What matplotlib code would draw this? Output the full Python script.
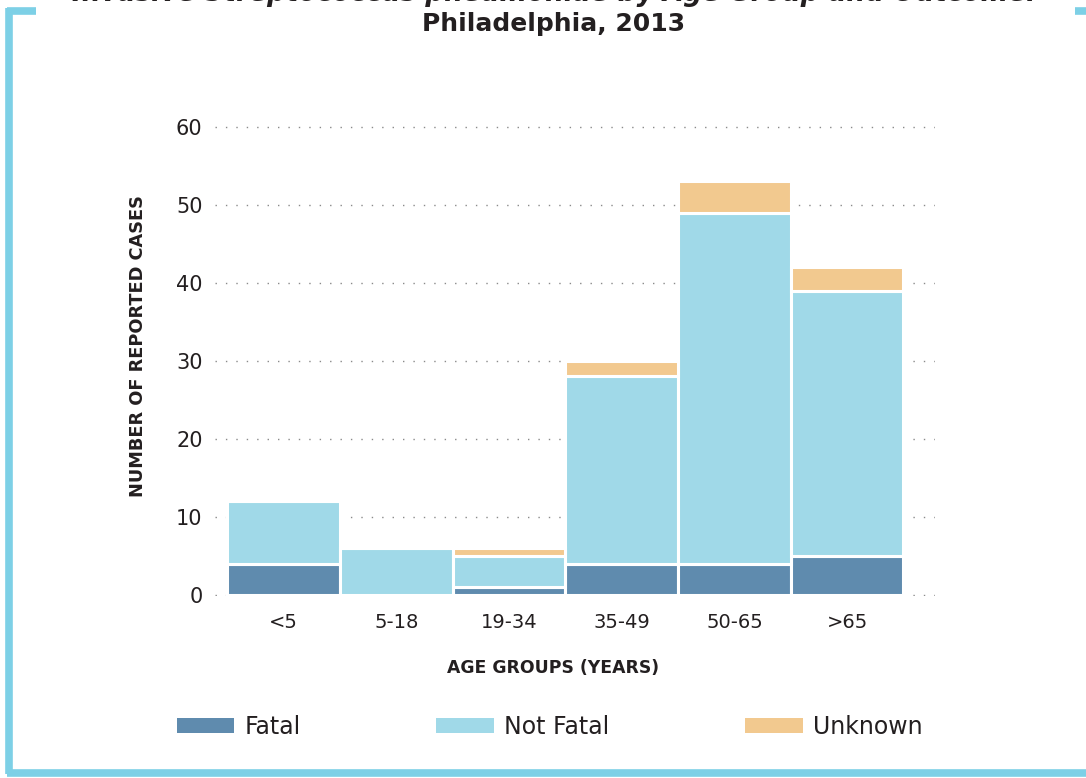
import matplotlib
matplotlib.use("Agg")
import matplotlib.pyplot as plt
from matplotlib.lines import Line2D
from matplotlib.patches import Patch
import numpy as np

categories = ["<5", "5-18", "19-34", "35-49", "50-65", ">65"]
fatal = [4, 0, 1, 4, 4, 5]
not_fatal = [8, 6, 4, 24, 45, 34]
unknown = [0, 0, 1, 2, 4, 3]
yticks = [0, 10, 20, 30, 40, 50, 60]

c_fatal = "#5f8bae"
c_notfatal = "#a0d9e8"
c_unknown = "#f2c98f"
c_border = "#7dd0e6"
txt = "#231f20"

plt.rcParams['font.family'] = ['DejaVu Sans']

fig = plt.figure(figsize=(10.86, 7.78), dpi=100)
ax = fig.add_axes([215/1086, 1-594/778 - 0.003, (935-215)/1086, (594-126)/778 + 0.006])

x = np.arange(len(categories))
f = np.array(fatal); n = np.array(not_fatal); u = np.array(unknown)
kw = dict(width=1.0, edgecolor="white", linewidth=2.2, zorder=3)
ax.bar(x, f, color=c_fatal, **kw)
ax.bar(x, n, bottom=f, color=c_notfatal, **kw)
ax.bar(x, u, bottom=f + n, color=c_unknown, **kw)

ax.set_xlim(-0.61, 5.78)
ax.set_ylim(-0.2, 60.4)
ax.set_yticks(yticks)
ax.set_yticklabels([str(t) for t in yticks], fontsize=15, color=txt)
ax.set_xticks(x)
ax.set_xticklabels(categories, fontsize=14, color=txt)
ax.tick_params(axis="both", length=0)
ax.tick_params(axis="y", pad=9)
ax.tick_params(axis="x", pad=12)
for s in ax.spines.values():
    s.set_visible(False)
ax.yaxis.grid(True, linestyle=(0, (1, 6.5)), color="#8a8a8a", linewidth=1.0, zorder=0)
ax.set_axisbelow(True)

ax.set_ylabel("NUMBER OF REPORTED CASES", fontsize=12.8, fontweight="bold", color=txt)
ax.yaxis.set_label_coords(-(215 - 138) / 720, (594 - 346) / 468)
ax.set_xlabel("AGE GROUPS (YEARS)", fontsize=12.4, fontweight="bold", color=txt)
ax.xaxis.set_label_coords((553 - 215) / 720, -(665 - 594) / 468)
ax.xaxis.label.set_va("center")
ax.yaxis.label.set_va("center")

# Title (first line partially cut off at top)
fig.text(0.51, 1 + 6/778, "Invasive Streptococcus pneumoniae by Age Group and Outcome:",
         ha="center", va="center", fontsize=19, fontweight="bold", style="italic", color=txt)
fig.text(0.51, 1 - 24/778, "Philadelphia, 2013", ha="center", va="center",
         fontsize=18, fontweight="bold", color=txt)

# Legend
handles = [Patch(facecolor=c_fatal), Patch(facecolor=c_notfatal), Patch(facecolor=c_unknown)]
fig.legend(handles, ["Fatal", "Not Fatal", "Unknown"], loc="center",
           bbox_to_anchor=(0.506, 1 - 727/778), ncol=3, frameon=False,
           fontsize=17, handlelength=2.45, handleheight=0.6, handletextpad=0.42,
           columnspacing=5.75, labelcolor=txt)

# Decorative border
lw = 5.5
fig.add_artist(Line2D([9/1086, 9/1086], [1 - 8/778, 1 - 774/778], transform=fig.transFigure,
                      color=c_border, linewidth=lw, solid_capstyle="butt"))
fig.add_artist(Line2D([7/1086, 1.0], [1 - 773/778, 1 - 773/778], transform=fig.transFigure,
                      color=c_border, linewidth=lw, solid_capstyle="butt"))
fig.add_artist(Line2D([7/1086, 36/1086], [1 - 11/778, 1 - 11/778], transform=fig.transFigure,
                      color=c_border, linewidth=lw, solid_capstyle="butt"))
fig.add_artist(Line2D([1075/1086, 1.0], [1 - 11/778, 1 - 11/778], transform=fig.transFigure,
                      color=c_border, linewidth=lw, solid_capstyle="butt"))

fig.savefig("out.png", dpi=100)
